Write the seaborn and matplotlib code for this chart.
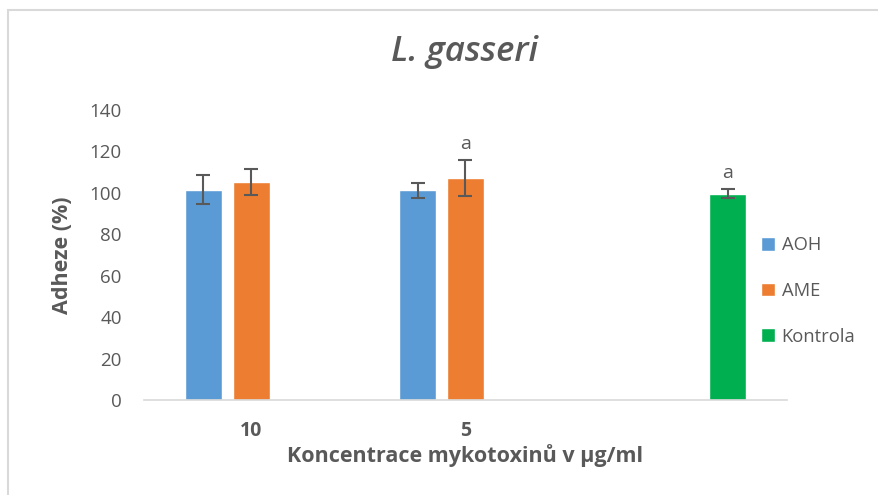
import numpy as np
import pandas as pd
import matplotlib
matplotlib.use("Agg")
import matplotlib.pyplot as plt
import seaborn as sns
from matplotlib.patches import Rectangle

categories = ["10", "5", ""]
series = ["AOH", "AME", "Kontrola"]
aoh_vals = [101.5, 101.2, None]
aoh_err = [6.9, 3.6, None]
ame_vals = [105.3, 107.2, None]
ame_err = [6.3, 8.6, None]
kontrola_vals = [None, None, 99.6]
kontrola_err = [None, None, 2.1]
annotations = {("5", "AME"): "a", ("", "Kontrola"): "a"}
colors = ["#5B9BD5", "#ED7D31", "#00B050"]

rows = []
for s, vals, errs in zip(series, [aoh_vals, ame_vals, kontrola_vals],
                         [aoh_err, ame_err, kontrola_err]):
    for c, v, e in zip(categories, vals, errs):
        if v is not None:
            rows.append({"cat": c, "series": s, "value": v, "err": e})
df = pd.DataFrame(rows)

sns.set_theme(style="white")
plt.rcParams["font.family"] = ["Open Sans", "DejaVu Sans"]
text_col = "#595959"

fig = plt.figure(figsize=(8.79, 4.95), dpi=100)
ax = fig.add_axes([144/879, 1-400/495, (787-144)/879, 290/495])

total_w = 0.67
sns.barplot(data=df, x="cat", y="value", hue="series", order=categories,
            hue_order=series, palette=colors, width=total_w, gap=0.23,
            errorbar=None, dodge=True, ax=ax, saturation=1, legend=True)

slot = total_w / len(series)
for _, r in df.iterrows():
    ci = categories.index(r["cat"])
    hi = series.index(r["series"])
    x = ci + (hi - 1) * slot
    ax.errorbar(x, r["value"], yerr=r["err"], fmt="none", ecolor="#595959",
                elinewidth=1.5, capsize=5, capthick=1.5, zorder=5)
    key = (r["cat"], r["series"])
    if key in annotations:
        ax.text(x, r["value"] + r["err"] + 3.5, annotations[key], ha="center",
                va="bottom", fontsize=14, color=text_col)

ax.set_ylim(0, 140)
ax.set_xlim(-0.5, 2.5)
ax.set_yticks(np.arange(0, 141, 20))
ax.tick_params(axis="y", labelsize=13.5, labelcolor=text_col, length=0, pad=16)
ax.tick_params(axis="x", labelsize=14, labelcolor=text_col, length=0, pad=15)
for lbl in ax.get_xticklabels():
    lbl.set_fontweight("bold")
for sp in ["top", "right", "left"]:
    ax.spines[sp].set_visible(False)
ax.spines["bottom"].set_color("#D9D9D9")
ax.spines["bottom"].set_linewidth(1.2)
ax.grid(False)

ax.set_ylabel("Adheze (%)", fontsize=15.5, fontweight="bold", color=text_col, labelpad=12)
ax.set_xlabel("Koncentrace mykotoxinů v µg/ml", fontsize=15.5, fontweight="bold",
              color=text_col, labelpad=2)
fig.text(0.529, 1-52/495, "L. gasseri", ha="center", va="center", fontsize=25,
         style="italic", fontweight="semibold", color=text_col)

handles, labels = ax.get_legend_handles_labels()
ax.legend(handles, labels, loc="center left", bbox_to_anchor=(745/879, 1-291/495),
          bbox_transform=fig.transFigure, frameon=False, fontsize=13.2,
          labelspacing=1.5, handlelength=0.75, handleheight=0.75, handletextpad=0.35,
          labelcolor=text_col)

fig.patches.append(Rectangle((8/879, -0.1), 1.2, 1-10/495+0.1, transform=fig.transFigure,
                             fill=False, edgecolor="#D9D9D9", linewidth=1.5))

fig.savefig("out.png", dpi=100)
